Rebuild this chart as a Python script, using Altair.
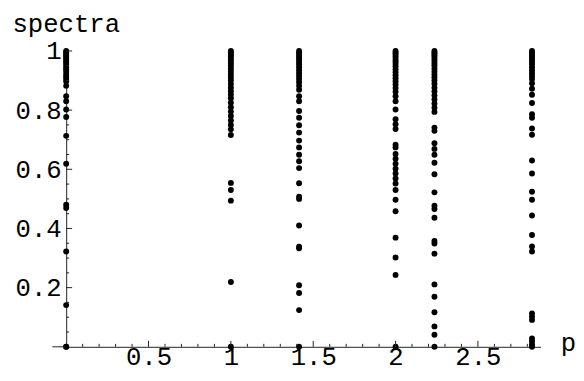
import altair as alt
import pandas as pd

# column positions (p)
p_values = [0.0, 1.0, 1.4142, 2.0, 2.2361, 2.8284]

# spectra values, one list per column
spec_p0 = [0.0, 0.0, 0.141, 0.322, 0.469, 0.48, 0.619, 0.713, 0.777, 0.802, 0.83, 0.847,
           0.882, 0.897, 0.905, 0.912, 0.92, 0.93, 0.938, 0.945, 0.953, 0.96, 0.967, 0.973,
           0.98, 0.985, 0.99, 0.995, 1.0]
spec_p1 = [0.0, 0.219, 0.494, 0.53, 0.554, 0.716, 0.735, 0.75, 0.765, 0.78, 0.795, 0.81,
           0.825, 0.84, 0.852, 0.864, 0.876, 0.888, 0.9, 0.91, 0.92, 0.93, 0.94, 0.95,
           0.958, 0.966, 0.974, 0.982, 0.988, 0.994, 1.0]
spec_p2 = [0.0, 0.124, 0.182, 0.208, 0.333, 0.338, 0.41, 0.5, 0.507, 0.553, 0.604, 0.627,
           0.649, 0.674, 0.697, 0.724, 0.749, 0.774, 0.797, 0.83, 0.847, 0.869, 0.882,
           0.894, 0.905, 0.915, 0.925, 0.935, 0.945, 0.955, 0.963, 0.971, 0.979, 0.986,
           0.993, 1.0]
spec_p3 = [0.0, 0.243, 0.302, 0.369, 0.458, 0.497, 0.53, 0.552, 0.569, 0.586, 0.602, 0.619,
           0.636, 0.652, 0.674, 0.683, 0.736, 0.752, 0.769, 0.802, 0.83, 0.847, 0.862,
           0.875, 0.887, 0.898, 0.908, 0.918, 0.928, 0.938, 0.948, 0.957, 0.965, 0.973,
           0.981, 0.988, 0.994, 1.0]
spec_p4 = [0.0, 0.041, 0.069, 0.117, 0.169, 0.211, 0.315, 0.349, 0.358, 0.436, 0.466, 0.477,
           0.522, 0.583, 0.622, 0.649, 0.669, 0.688, 0.73, 0.741, 0.794, 0.808, 0.822,
           0.836, 0.85, 0.863, 0.876, 0.889, 0.9, 0.91, 0.92, 0.93, 0.94, 0.95, 0.958,
           0.966, 0.974, 0.982, 0.988, 0.994, 1.0]
spec_p5 = [0.0, 0.008, 0.019, 0.028, 0.091, 0.102, 0.113, 0.322, 0.339, 0.378, 0.444, 0.497,
           0.524, 0.586, 0.63, 0.717, 0.738, 0.774, 0.786, 0.824, 0.852, 0.872, 0.891,
           0.905, 0.915, 0.925, 0.935, 0.945, 0.955, 0.963, 0.971, 0.979, 0.986, 0.993, 1.0]

# axis ticks / labels
x_labels = [0.5, 1.0, 1.5, 2.0, 2.5]
x_minor = [0.1, 0.2, 0.3, 0.4, 0.6, 0.7, 0.8, 0.9, 1.1, 1.2, 1.3, 1.4, 1.6, 1.7, 1.8, 1.9,
           2.1, 2.2, 2.3, 2.4, 2.6, 2.7, 2.8]
y_labels = [0.2, 0.4, 0.6, 0.8, 1.0]
y_minor = [0.05, 0.1, 0.15, 0.25, 0.3, 0.35, 0.45, 0.5, 0.55, 0.65, 0.7, 0.75, 0.85, 0.9, 0.95]

rows = []
for p, vals in zip(p_values, [spec_p0, spec_p1, spec_p2, spec_p3, spec_p4, spec_p5]):
    rows += [{"p": p, "s": v} for v in vals]
df = pd.DataFrame(rows)

W, H = 481, 300
FONT = "Liberation Mono"
AX = "#222222"
xs = alt.Scale(domain=[0, 2.88], nice=False, zero=False)
ys = alt.Scale(domain=[0, 1], nice=False, zero=False)

x_axis = alt.Axis(
    values=x_labels, format="~g", ticks=False, tickSize=0, grid=False,
    domainColor=AX, domainWidth=1, labelFont=FONT, labelFontSize=26, labelColor="black",
    labelPadding=18, labelBaseline="alphabetic", labelOverlap=False, labelFlush=False,
    title="p", titleX=501, titleY=4, titleAlign="left", titleBaseline="alphabetic",
    titleFont=FONT, titleFontSize=26, titleFontWeight="normal", titleColor="black")
y_axis = alt.Axis(
    values=y_labels, format="~g", ticks=False, tickSize=0, grid=False,
    domainColor=AX, domainWidth=1, labelFont=FONT, labelFontSize=26, labelColor="black",
    labelPadding=5, labelBaseline="middle", labelOverlap=False, labelFlush=False,
    title="spectra", titleAngle=0, titleX=-55, titleY=-41, titleAlign="left",
    titleBaseline="top", titleFont=FONT, titleFontSize=26,
    titleFontWeight="normal", titleColor="black")

points = alt.Chart(df).mark_circle(size=36, color="black", opacity=1).encode(
    x=alt.X("p:Q", scale=xs, axis=x_axis),
    y=alt.Y("s:Q", scale=ys, axis=y_axis),
)

def xticks(vals, length):
    return alt.Chart(pd.DataFrame({"p": vals})).mark_rule(color=AX, strokeWidth=1).encode(
        x=alt.X("p:Q", scale=xs, axis=x_axis), y=alt.value(H), y2=alt.value(H - length))

def yticks(vals, length):
    return alt.Chart(pd.DataFrame({"s": vals})).mark_rule(color=AX, strokeWidth=1).encode(
        y=alt.Y("s:Q", scale=ys, axis=y_axis), x=alt.value(0), x2=alt.value(length))

ext = alt.Chart(pd.DataFrame({"p": [0]})).mark_rule(color=AX, strokeWidth=1).encode(
    x=alt.value(-14), x2=alt.value(0), y=alt.value(H))

chart = alt.layer(
    points, xticks(x_minor, 3), xticks(x_labels, 6), yticks(y_minor, 3), yticks(y_labels, 6), ext
).properties(
    width=W, height=H, autosize="none",
    padding={"left": 59, "top": 41, "right": 36, "bottom": 24},
    background="white",
).configure_view(stroke=None)

chart.save("out.html", embed_options={"renderer": "svg", "actions": False})
